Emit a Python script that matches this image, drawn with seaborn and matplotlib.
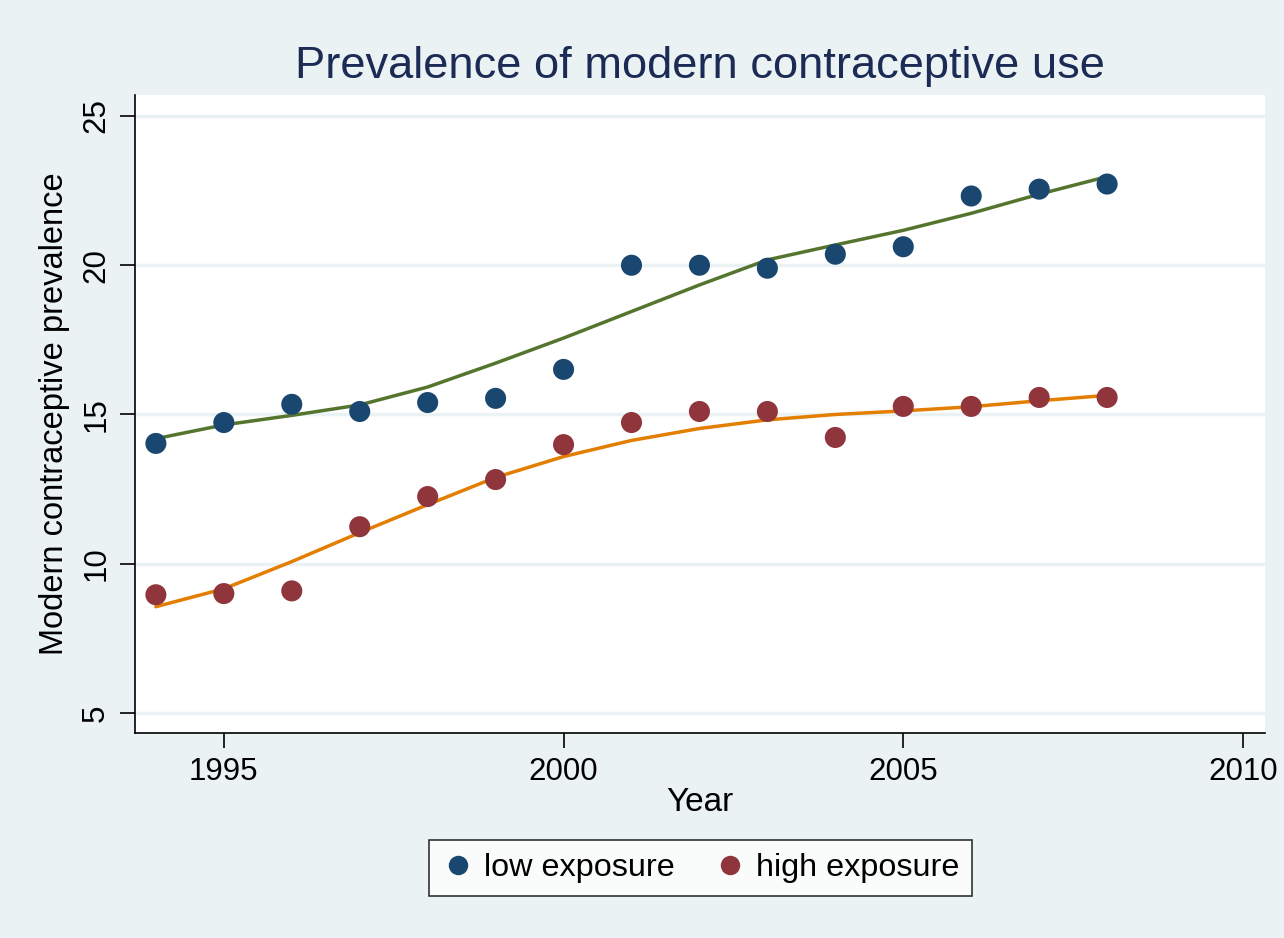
import matplotlib
matplotlib.use("Agg")
import matplotlib.pyplot as plt
import seaborn as sns
import pandas as pd
from matplotlib.lines import Line2D

years = [1994, 1995, 1996, 1997, 1998, 1999, 2000, 2001, 2002, 2003, 2004, 2005, 2006, 2007, 2008]
low_exposure = [14.03, 14.73, 15.34, 15.10, 15.40, 15.54, 16.51, 20.0, 20.0, 19.9, 20.37, 20.62, 22.32, 22.55, 22.72]
high_exposure = [8.96, 9.0, 9.09, 11.24, 12.25, 12.82, 13.99, 14.73, 15.10, 15.10, 14.23, 15.27, 15.27, 15.57, 15.57]
low_fit = [14.19, 14.65, 14.97, 15.32, 15.92, 16.72, 17.56, 18.45, 19.34, 20.18, 20.68, 21.17, 21.74, 22.38, 22.97]
high_fit = [8.56, 9.16, 10.07, 11.04, 11.98, 12.89, 13.59, 14.13, 14.53, 14.82, 15.00, 15.12, 15.26, 15.46, 15.64]
y_ticks = [5, 10, 15, 20, 25]
x_ticks = [1995, 2000, 2005, 2010]

navy = "#1A476F"
maroon = "#90353B"
green = "#55752F"
orange = "#E37E00"
bg = "#EAF2F3"
title_color = "#1C2B55"

df = pd.DataFrame({
    "Year": years * 2,
    "value": low_exposure + high_exposure,
    "fit": low_fit + high_fit,
    "group": ["low exposure"] * len(years) + ["high exposure"] * len(years),
})

sns.set_style("white")
plt.rcParams["font.family"] = ["Liberation Sans", "DejaVu Sans"]
plt.rcParams["text.color"] = "black"
plt.rcParams["axes.labelcolor"] = "black"

fig = plt.figure(figsize=(12.84, 9.38), dpi=100, facecolor=bg)
ax = fig.add_axes([0.105, 0.2186, 0.880, 0.680])
ax.set_facecolor("white")

for yt in y_ticks:
    ax.axhline(yt, color=bg, lw=2.5, zorder=0)

sns.lineplot(data=df, x="Year", y="fit", hue="group",
             palette={"low exposure": green, "high exposure": orange},
             lw=2.5, ax=ax, legend=False, zorder=2)
sns.scatterplot(data=df, x="Year", y="value", hue="group",
                palette={"low exposure": navy, "high exposure": maroon},
                s=230, edgecolor="none", ax=ax, legend=False, zorder=3)

ax.set_xlim(1993.69, 2010.32)
ax.set_ylim(4.33, 25.7)
ax.set_xticks(x_ticks)
ax.set_yticks(y_ticks)
ax.set_yticklabels([str(t) for t in y_ticks], rotation=90, va="center")
ax.tick_params(axis="both", labelsize=22.5, length=11, width=1.2, direction="out",
               colors="black", labelcolor="black", pad=6)
ax.tick_params(left=True, bottom=True)
for s in ["top", "right"]:
    ax.spines[s].set_visible(False)
for s in ["left", "bottom"]:
    ax.spines[s].set_color("black")
    ax.spines[s].set_linewidth(1.2)

ax.set_xlabel("Year", fontsize=24, labelpad=0, color="black")
ax.set_ylabel("Modern contraceptive prevalence", fontsize=23.5, labelpad=8, color="black")
ax.set_title("Prevalence of modern contraceptive use", fontsize=32.6, color=title_color, pad=12)

handles = [
    Line2D([0], [0], marker="o", color="none", markerfacecolor=navy, markeredgecolor="none", markersize=14),
    Line2D([0], [0], marker="o", color="none", markerfacecolor=maroon, markeredgecolor="none", markersize=14),
]
leg = fig.legend(handles, ["low exposure", "high exposure"], loc="center",
                 bbox_to_anchor=(0.5455, 0.0746), ncol=2, fontsize=23.3, frameon=True,
                 fancybox=False, edgecolor="black", handletextpad=0.3, columnspacing=1.2,
                 borderpad=0.4, handlelength=1.0, borderaxespad=0.3)
leg.get_frame().set_linewidth(1.2)
leg.get_frame().set_facecolor("white")
for t in leg.get_texts():
    t.set_color("black")

fig.savefig("out.png", dpi=100, facecolor=bg)
